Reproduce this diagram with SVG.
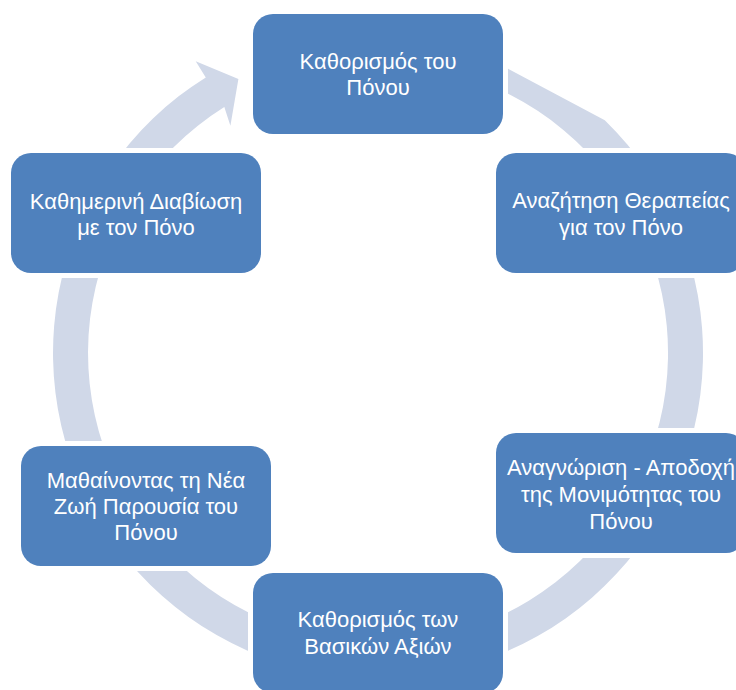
<svg xmlns="http://www.w3.org/2000/svg" width="736" height="690" viewBox="0 0 736 690">
<style>
.box{fill:#4F81BD;stroke:#FFFFFF;stroke-width:10;paint-order:stroke}
.lbl{fill:#FFFFFF;font-family:"Liberation Sans",Arial,sans-serif;font-size:22px;text-anchor:middle}
.ring{fill:#D0D8E8}
</style>
<rect width="736" height="690" fill="#FFFFFF"/>
<g id="connectors">
<path class="ring" d="M604.8,120.2 A325,325 0 1 1 205.78,77.38 L195.71,61.27 L238.40,79.01 L230.4,125.7 L224.32,107.07 A290,290 0 1 0 480,81.5 L480,53.8 Z"/>
</g>
<g id="node1">
<rect class="box" x="253" y="14" width="250" height="120" rx="20"/>
<text class="lbl" x="378" y="69">Καθορισμός του</text>
<text class="lbl" x="378" y="95">Πόνου</text>
</g>
<g id="node2">
<rect class="box" x="496" y="153" width="250" height="120" rx="20"/>
<text class="lbl" x="621" y="208">Αναζήτηση Θεραπείας</text>
<text class="lbl" x="621" y="235">για τον Πόνο</text>
</g>
<g id="node3">
<rect class="box" x="496" y="433" width="250" height="120" rx="20"/>
<text class="lbl" x="621" y="475">Αναγνώριση - Αποδοχή</text>
<text class="lbl" x="621" y="502">της Μονιμότητας του</text>
<text class="lbl" x="621" y="529">Πόνου</text>
</g>
<g id="node4">
<rect class="box" x="253" y="573" width="250" height="120" rx="20"/>
<text class="lbl" x="378" y="627">Καθορισμός των</text>
<text class="lbl" x="378" y="654">Βασικών Αξιών</text>
</g>
<g id="node5">
<rect class="box" x="21" y="446" width="250" height="120" rx="20"/>
<text class="lbl" x="146" y="488">Μαθαίνοντας τη Νέα</text>
<text class="lbl" x="146" y="514">Ζωή Παρουσία του</text>
<text class="lbl" x="146" y="540">Πόνου</text>
</g>
<g id="node6">
<rect class="box" x="11" y="153" width="250" height="120" rx="20"/>
<text class="lbl" x="136" y="209">Καθημερινή Διαβίωση</text>
<text class="lbl" x="136" y="235">με τον Πόνο</text>
</g>
</svg>
